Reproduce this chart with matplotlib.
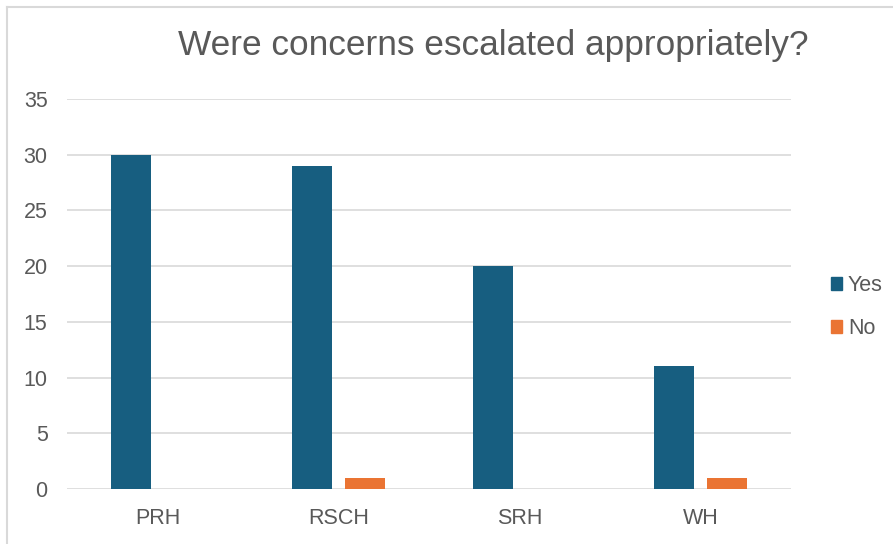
import matplotlib
matplotlib.use("Agg")
import matplotlib.pyplot as plt
from matplotlib.lines import Line2D
from matplotlib.patches import Patch
import numpy as np

plt.rcParams['font.family'] = ['Liberation Sans', 'DejaVu Sans']

categories = ["PRH", "RSCH", "SRH", "WH"]
yes_values = [30, 29, 20, 11]
no_values = [0, 1, 0, 1]
series_names = ["Yes", "No"]
title = "Were concerns escalated appropriately?"
yticks = [0, 5, 10, 15, 20, 25, 30, 35]

YES_COLOR = "#175e80"
NO_COLOR = "#ea7433"
TEXT_COLOR = "#595959"
GRID_COLOR = "#d9d9d9"

fig = plt.figure(figsize=(8.93, 5.44), dpi=100)
ax = fig.add_axes([67/893, 1-489/544, (791-67)/893, (489-99)/544])

x = np.arange(len(categories))
w = 0.22
off = 0.145
ax.bar(x - off, yes_values, w, color=YES_COLOR, zorder=3)
ax.bar(x + off, no_values, w, color=NO_COLOR, zorder=3)

ax.set_xlim(-0.5, len(categories) - 0.5)
ax.set_ylim(0, 35)
ax.set_yticks(yticks)
ax.set_yticklabels([str(t) for t in yticks])
ax.set_xticks(x)
ax.set_xticklabels(categories)
ax.yaxis.grid(True, color=GRID_COLOR, linewidth=1.2, zorder=0)
ax.set_axisbelow(True)
for s in ax.spines.values():
    s.set_visible(False)
ax.tick_params(axis='both', length=0, labelsize=15.5, colors=TEXT_COLOR)
ax.tick_params(axis='y', pad=14)
ax.tick_params(axis='x', pad=14)

fig.text(493/893, 1-46/544, title, ha='center', va='center', fontsize=25.4, color=TEXT_COLOR)

handles = [Patch(color=YES_COLOR), Patch(color=NO_COLOR)]
leg = fig.legend(handles, series_names, loc='center left',
                 bbox_to_anchor=(822/893, 1-307/544), frameon=False,
                 fontsize=15.5, handlelength=0.55, handleheight=0.55,
                 handletextpad=0.25, labelspacing=1.05, borderaxespad=0)
for t in leg.get_texts():
    t.set_color(TEXT_COLOR)

# outer chart border (top and left visible)
fig.add_artist(Line2D([7/893, 1], [1-7/544, 1-7/544], transform=fig.transFigure,
                      color=GRID_COLOR, linewidth=1.5))
fig.add_artist(Line2D([7/893, 7/893], [0, 1-7/544], transform=fig.transFigure,
                      color=GRID_COLOR, linewidth=1.5))

fig.savefig("out.png", dpi=100)
